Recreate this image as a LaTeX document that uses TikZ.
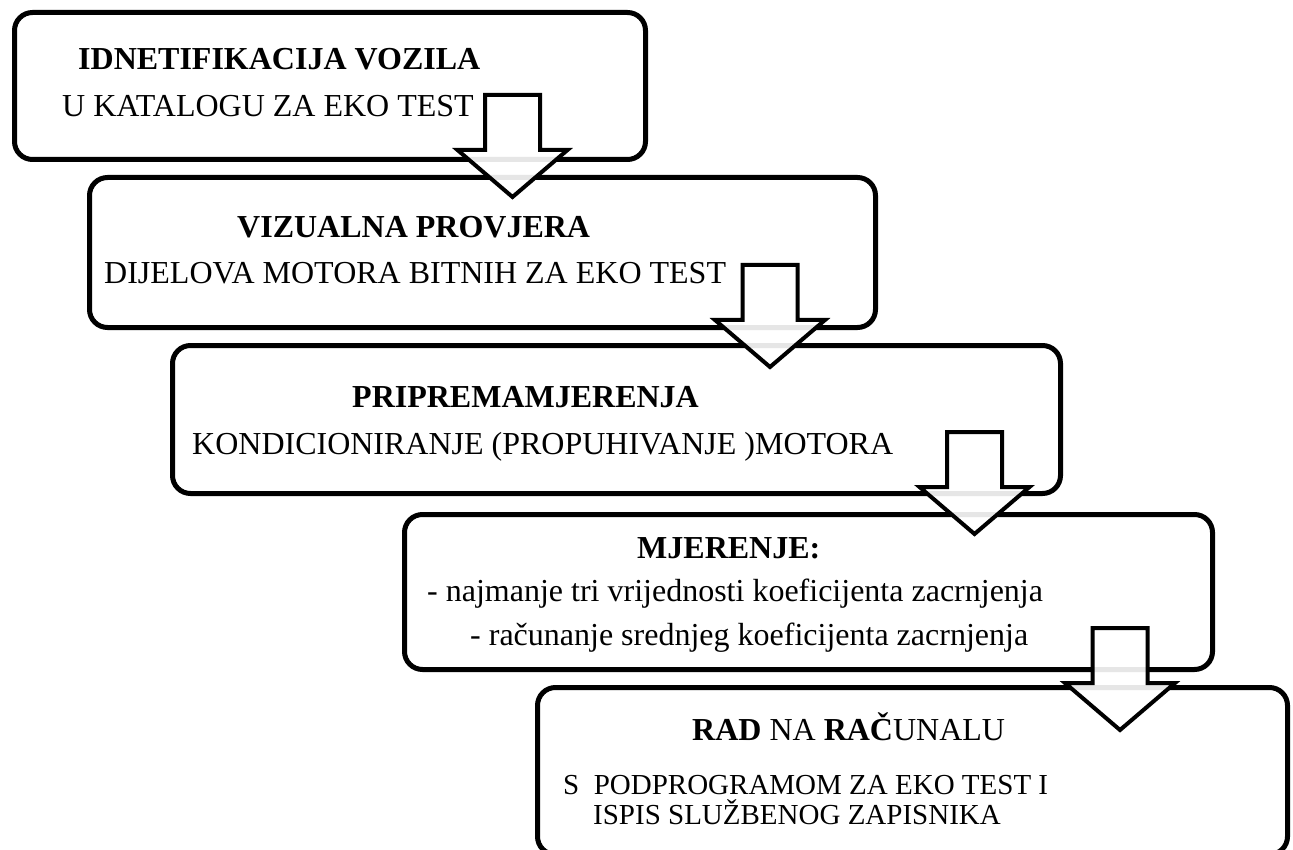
\documentclass[tikz,border=0pt]{standalone}
\usepackage{fontspec}
\setmainfont{Liberation Serif}
\usepackage{tikz}
\newcommand\stepfont{\fontsize{32}{38}\selectfont}
\newcommand\smallstepfont{\fontsize{29}{34}\selectfont}
\newcommand\downarr[2]{%
  \draw[downarrow] (#1-27.5,#2) -- (#1+27.5,#2) -- (#1+27.5,#2+55) -- (#1+55,#2+55)
    -- (#1,#2+102) -- (#1-55,#2+55) -- (#1-27.5,#2+55) -- cycle;}
\tikzstyle{stepbox}=[draw,line width=5pt,rounded corners=18pt,anchor=north west,inner sep=0pt]
\tikzstyle{steptxt}=[anchor=base west,inner sep=0pt,font=\stepfont]
\tikzstyle{downarrow}=[line width=4pt,miter limit=10,fill=white,fill opacity=.9]

\begin{document}
\begin{tikzpicture}[x=1pt,y=-1pt]
	\useasboundingbox (0,0) rectangle (1293,850);
	\node[stepbox,minimum width=631pt,minimum height=147pt] (ident) at (12,10) {};
	\node[stepbox,minimum width=786pt,minimum height=150pt] (vizual) at (87,175) {};
	\node[stepbox,minimum width=888pt,minimum height=148pt] (priprema) at (170,343) {};
	\node[stepbox,minimum width=808pt,minimum height=155pt] (mjerenje) at (402,512) {};
	\node[stepbox,minimum width=750pt,minimum height=167pt] (racunalo) at (535,685) {};
	% texts
	\node[steptxt] (ident-a) at (78,70) {\bfseries IDNETIFIKACIJA VOZILA};
	\node[steptxt] (ident-b) at (62,117) {U KATALOGU ZA EKO TEST};
	\node[steptxt] (vizual-a) at (237,238) {\bfseries VIZUALNA PROVJERA};
	\node[steptxt] (vizual-b) at (104,284) {DIJELOVA MOTORA BITNIH ZA EKO TEST};
	\node[steptxt] (priprema-a) at (352,407) {\bfseries PRIPREMAMJERENJA};
	\node[steptxt] (priprema-b) at (192,454) {KONDICIONIRANJE (PROPUHIVANJE )MOTORA};
	\node[steptxt] (mjerenje-a) at (637,558) {\bfseries MJERENJE:};
	\node[steptxt] (mjerenje-b) at (427,601) {- najmanje tri vrijednosti koeficijenta zacrnjenja};
	\node[steptxt] (mjerenje-c) at (470,645) {- računanje srednjeg koeficijenta zacrnjenja};
	\node[steptxt] (racunalo-a) at (692,740) {\textbf{RAD} NA \textbf{RAČ}UNALU};
	\node[steptxt,font=\smallstepfont] (racunalo-b) at (563,794) {S\ \ PODPROGRAMOM ZA EKO TEST I};
	\node[steptxt,font=\smallstepfont] (racunalo-c) at (593,824) {ISPIS SLUŽBENOG ZAPISNIKA};
	% arrows
	\downarr{512.5}{95}
	\downarr{770}{265}
	\downarr{974.5}{432}
	\downarr{1120}{628}
\end{tikzpicture}
\end{document}
